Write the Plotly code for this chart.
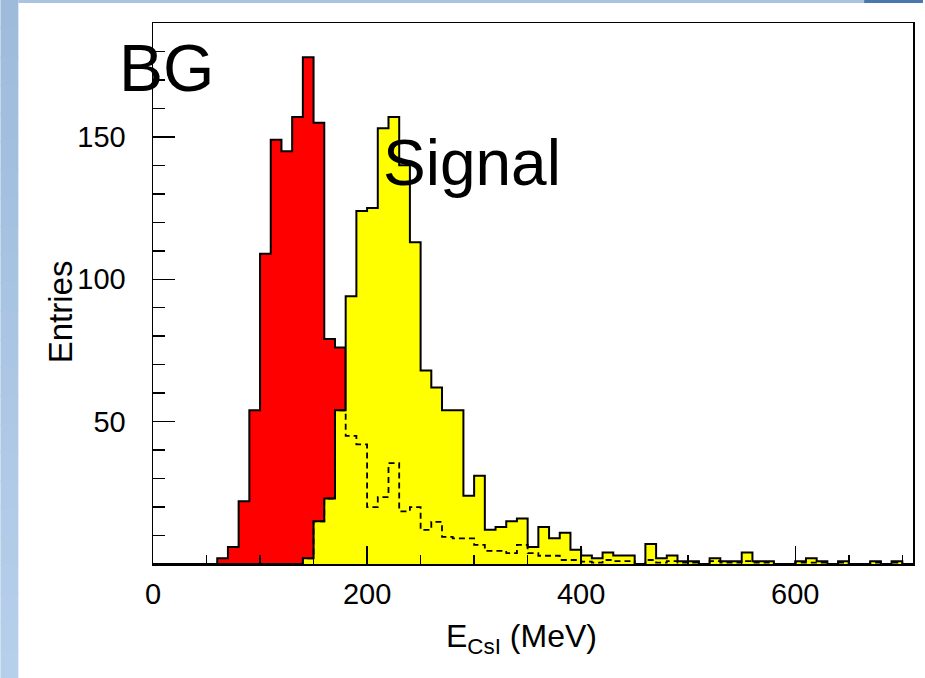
import plotly.graph_objects as go

# ---------------- data ----------------
bin_width = 10
x_range = [0, 710]
y_range = [0, 190]
bin_low = list(range(0, 710, bin_width))          # 71 bins, 0..700 MeV

# BG (red) entries per 10 MeV bin
bg_counts = ([0, 0, 0, 0, 0, 0, 2, 6, 22, 54,
              109, 149, 145, 157, 178, 155, 79, 76] + [0] * 53)

# Signal (yellow) entries per 10 MeV bin
signal_counts = ([0] * 14 +
                 [2, 15, 23, 54, 94, 124, 125, 153, 157, 140,
                  113, 68, 62, 54, 54, 24, 31, 12, 13, 15,
                  16, 6, 13, 9, 11, 5, 3, 2, 4, 3,
                  3, 0, 7, 2, 3, 1, 1, 0, 2, 1,
                  1, 4, 1, 1, 0, 0, 1, 2, 1, 0,
                  1, 0, 0, 1, 0, 1, 0])

# Signal sub-sample (dashed outline)
signal_dashed = ([0] * 14 +
                 [2, 15, 23, 54, 45, 42, 20, 23.5, 35.4, 18.5,
                  20, 12, 14.8, 9.5, 9, 9, 6.7, 4.6, 4.6, 3.8,
                  6.7, 3.8, 2.9, 2.9, 1.4, 1.4, 0.8, 0.5, 1.4, 1,
                  1, 0, 1.4, 0.5, 1, 0.5, 0.5, 0, 1, 0.5,
                  0.5, 1, 0.5, 0.5, 0, 0, 0.5, 0.5, 0.5, 0,
                  0.5, 0, 0, 0.5, 0, 0.5, 0])

x_tick_vals = [0, 200, 400, 600]
y_tick_vals = [50, 100, 150]

label_bg = "BG"
label_signal = "Signal"
x_title = "E<sub>CsI</sub> (MeV)"
y_title = "Entries"


def steps(lows, counts, width):
    xs, ys = [lows[0]], [0]
    for lo, c in zip(lows, counts):
        xs += [lo, lo + width]
        ys += [c, c]
    xs.append(lows[-1] + width)
    ys.append(0)
    return xs, ys


# ---------------- figure ----------------
W, H = 925, 678
ML, MR, MT, MB = 153, 10, 23, 114
PW, PH = W - ML - MR, H - MT - MB


def px(xp):
    return (xp - ML) / PW


def py(yp):
    return (H - MB - yp) / PH


fig = go.Figure()

bx, by = steps(bin_low, bg_counts, bin_width)
fig.add_trace(go.Scatter(x=bx, y=by, mode="lines", fill="tozeroy",
                         fillcolor="#ff0000",
                         line=dict(color="black", width=2),
                         hoverinfo="skip", showlegend=False))

sx, sy = steps(bin_low, signal_counts, bin_width)
fig.add_trace(go.Scatter(x=sx, y=sy, mode="lines", fill="tozeroy",
                         fillcolor="#ffff00",
                         line=dict(color="black", width=2),
                         hoverinfo="skip", showlegend=False))

dx, dy = steps(bin_low, signal_dashed, bin_width)
fig.add_trace(go.Scatter(x=dx, y=dy, mode="lines",
                         line=dict(color="black", width=1.8, dash="6px,4px"),
                         hoverinfo="skip", showlegend=False))

tick_font = dict(family="Liberation Sans, Arial, sans-serif", size=29, color="black")
title_font = dict(family="Liberation Sans, Arial, sans-serif", size=32, color="black")

fig.update_xaxes(range=x_range, showgrid=False, zeroline=False,
                 showline=True, linecolor="black", linewidth=1.5, mirror=True,
                 ticks="inside", ticklen=18, tickwidth=1.5, tickcolor="black",
                 tickmode="array", tickvals=x_tick_vals,
                 ticklabelstandoff=4,
                 minor=dict(ticks="inside", ticklen=9, tickwidth=1.5,
                            tickcolor="black", tickmode="linear",
                            tick0=0, dtick=50),
                 tickfont=tick_font)
fig.update_yaxes(range=y_range, showgrid=False, zeroline=False,
                 showline=True, linecolor="black", linewidth=1.5, mirror=True,
                 ticks="inside", ticklen=22, tickwidth=1.5, tickcolor="black",
                 tickmode="array", tickvals=y_tick_vals,
                 ticklabelstandoff=20,
                 minor=dict(ticks="inside", ticklen=12, tickwidth=1.5,
                            tickcolor="black", tickmode="linear",
                            tick0=0, dtick=10),
                 tickfont=tick_font)

# slide decorations (left gradient strip and top bar)
shapes = []
n_band = 24
c_top = (158, 187, 220)
c_bot = (182, 207, 235)
for i in range(n_band):
    t = i / (n_band - 1)
    col = tuple(int(round(a + (b - a) * t)) for a, b in zip(c_top, c_bot))
    shapes.append(dict(type="rect", xref="paper", yref="paper",
                       x0=px(0), x1=px(18),
                       y0=py(H * (i + 1) / n_band + 1), y1=py(H * i / n_band),
                       fillcolor="rgb(%d,%d,%d)" % col, line=dict(width=0),
                       layer="below"))
shapes.append(dict(type="rect", xref="paper", yref="paper",
                   x0=px(18), x1=px(866), y0=py(3), y1=py(0),
                   fillcolor="#a9c3e0", line=dict(width=0), layer="below"))
shapes.append(dict(type="rect", xref="paper", yref="paper",
                   x0=px(866), x1=px(925), y0=py(3), y1=py(0),
                   fillcolor="#4a78ae", line=dict(width=0), layer="below"))

annotations = [
    dict(text=label_bg, xref="paper", yref="paper", x=px(117), y=py(67.5),
         xanchor="left", yanchor="middle", showarrow=False,
         font=dict(family="Liberation Sans, Arial, sans-serif", size=66, color="black")),
    dict(text=label_signal, xref="paper", yref="paper", x=px(382), y=py(163),
         xanchor="left", yanchor="middle", showarrow=False,
         font=dict(family="Liberation Sans, Arial, sans-serif", size=64, color="black")),
    dict(text=x_title, xref="paper", yref="paper", x=px(522), y=py(638),
         xanchor="center", yanchor="middle", showarrow=False, font=title_font),
    dict(text=y_title, xref="paper", yref="paper", x=px(60), y=py(312),
         xanchor="center", yanchor="middle", showarrow=False, textangle=-90,
         font=dict(family="Liberation Sans, Arial, sans-serif", size=33, color="black")),
]

fig.update_layout(width=W, height=H,
                  margin=dict(l=ML, r=MR, t=MT, b=MB, pad=0),
                  paper_bgcolor="white", plot_bgcolor="white",
                  shapes=shapes, annotations=annotations,
                  showlegend=False)

fig.write_html("out.html",
               config={"displayModeBar": False, "staticPlot": True},
               post_script="document.body.style.margin='0px';"
                           "document.body.style.overflow='hidden';")
